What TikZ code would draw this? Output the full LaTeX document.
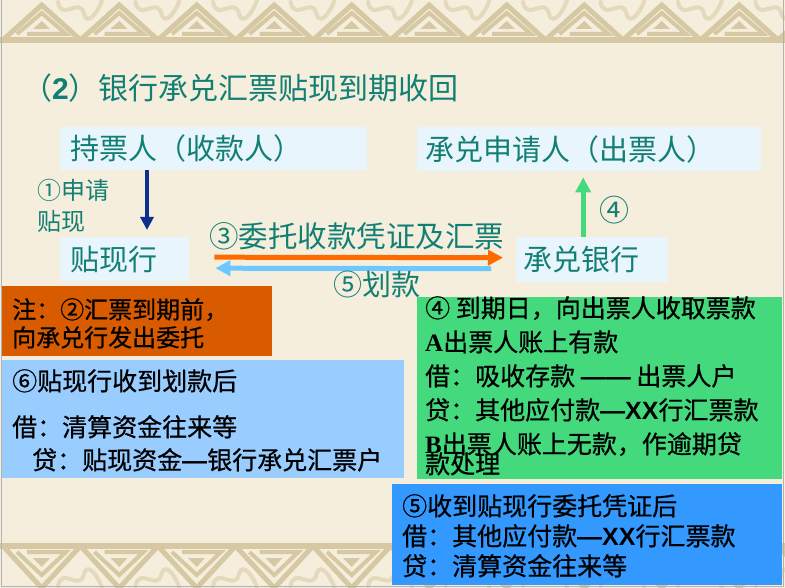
\documentclass[tikz,border=0pt]{standalone}
\usepackage{fontspec}
\setmainfont{Noto Sans CJK SC}
\newfontfamily\panelfont{Noto Sans CJK SC}[FakeBold=0.7]
\newfontfamily\romanfont{Liberation Serif}
\newfontfamily\arialfont{Liberation Sans}
\newcommand{\bardash}{{\arialfont\bfseries —}}
\usetikzlibrary{arrows.meta}
\definecolor{paper}{HTML}{F5EEDC}
\definecolor{trim}{HTML}{D6C8A2}
\definecolor{trimlight}{HTML}{E4D9BC}
\definecolor{inkteal}{HTML}{127F74}
\definecolor{cardblue}{HTML}{E8F5FC}
\definecolor{navyarrow}{HTML}{0D2F8F}
\definecolor{orangearrow}{HTML}{FF6A00}
\definecolor{skyarrow}{HTML}{6CC8FF}
\definecolor{greenarrow}{HTML}{44D97A}
\definecolor{noteorange}{HTML}{D95B00}
\definecolor{lightpanel}{HTML}{99CCFF}
\definecolor{greenpanel}{HTML}{44D97C}
\definecolor{bluepanel}{HTML}{3399FF}
\begin{document}
\begin{tikzpicture}[x=1pt, y=-1pt,
  card/.style={fill=cardblue, anchor=north west, align=left, inner ysep=0pt, text=inkteal, font=\fontsize{29}{29}\selectfont},
  panel/.style={anchor=north west, inner sep=0pt},
  paneltext/.style={anchor=north west, inner sep=0pt, align=left},
  tag/.style={text=inkteal, inner sep=0pt, anchor=west, align=left},
  flow/.style={line width=5pt, -{Triangle[length=15pt, width=15pt]}},
  trimline/.style={draw=trim, line width=5pt, line join=miter},
  knot/.style={draw=trimlight, line width=4pt, line cap=round}]
  \useasboundingbox (0,0) rectangle (785,588);
  \fill[paper] (0,0) rectangle (785,588);

  \begin{scope}
    \clip (0,0) rectangle (785,588);
    \foreach \i in {0,...,10} {
      \begin{scope}[xshift=\i*77.5pt]
        \draw[knot] (58,2) .. controls (62,22) and (80,-4) .. (84,14) .. controls (88,28) and (100,8) .. (102,0);
        \draw[trimline] (3,40) -- (41.75,5) -- (80.5,40);
        \draw[trimline, line width=4pt] (17,34) -- (41.75,13) -- (66,34) -- (27,34);
        \fill[trim] (33,29) -- (41.75,21) -- (50,29) -- cycle;
        \draw[knot] (58,586) .. controls (62,566) and (80,592) .. (84,574) .. controls (88,560) and (100,580) .. (102,588);
        \draw[trimline] (3,546) -- (41.75,588) -- (80.5,546);
        \draw[trimline, line width=4pt] (17,552) -- (41.75,575) -- (66,552) -- (27,552);
        \fill[trim] (33,558) -- (41.75,567) -- (50,558) -- cycle;
      \end{scope}
    }
    \fill[trim] (0,37) rectangle (785,43);
    \fill[trim] (0,543) rectangle (785,549);
  \end{scope}
  \draw[gray!60, line width=1pt] (1,0) -- (1,586) -- (783,586) -- (783,0);

  \node[tag, font=\fontsize{30}{30}\selectfont] (title) at (22,88) {（{\arialfont\bfseries 2}）银行承兑汇票贴现到期收回};

  \node[card, inner xsep=10pt, text width=287pt, minimum height=43pt] (holder) at (60,127) {持票人（收款人）};
  \node[card, inner xsep=8pt, text width=328pt, minimum height=44pt] (applicant) at (417,127) {承兑申请人（出票人）};
  \node[card, inner xsep=10pt, text width=109pt, minimum height=44pt] (discbank) at (60,237) {贴现行};
  \node[card, inner xsep=7pt, text width=138pt, minimum height=45pt] (acceptbank) at (516,237) {承兑银行};

  \draw[navyarrow, line width=4pt, -{Triangle[length=13pt, width=13pt]}, shorten >=7pt] ([xshift=87pt]holder.south west) -- ([xshift=87pt]discbank.north west);
  \draw[flow, orangearrow, shorten >=13pt] ([xshift=25pt, yshift=2pt]discbank.east) -- ([yshift=2pt]acceptbank.west);
  \draw[flow, skyarrow] ([xshift=-25pt, yshift=-9pt]acceptbank.west) -- ([xshift=26pt, yshift=-9pt]discbank.east);
  \draw[flow, greenarrow, shorten >=6pt] ([xshift=-9pt]acceptbank.north) -- ([xshift=-6pt]applicant.south);

  \node[tag, font=\fontsize{24}{31}\selectfont] (applylbl) at (37,206) {①申请\\贴现};
  \node[tag, font=\fontsize{29.5}{29.5}\selectfont] (collectlbl) at (209,236) {③委托收款凭证及汇票};
  \node[tag, font=\fontsize{29}{29}\selectfont] (paylbl) at (333,284) {⑤划款};
  \node[tag, font=\fontsize{30}{30}\selectfont] (notifylbl) at (599,210) {④};

  \node[panel, fill=noteorange, minimum width=270pt, minimum height=70pt] (notebox) at (2,286) {};
  \node[paneltext, font=\panelfont\fontsize{24}{28}\selectfont] (notetext) at (12,298) {注：②汇票到期前，\\向承兑行发出委托};

  \node[panel, fill=lightpanel, minimum width=402pt, minimum height=118pt] (settlebox) at (2,360) {};
  \node[paneltext, font=\panelfont\fontsize{25}{33}\selectfont] (settletext) at (12,369) {⑥贴现行收到划款后\\[13pt]借：清算资金往来等\\\hspace*{20pt}贷：贴现资金\bardash 银行承兑汇票户};

  \node[panel, fill=greenpanel, minimum width=365pt, minimum height=182pt] (duebox) at (417,297) {};
  \node[paneltext, font=\panelfont\fontsize{25}{34}\selectfont] (duetext) at (425,296) {④ 到期日，向出票人收取票款\\{\romanfont\bfseries A}出票人账上有款\\借：吸收存款 \bardash\bardash\ 出票人户\\贷：其他应付款\bardash{\arialfont\bfseries XX}行汇票款\\{\romanfont\bfseries B}出票人账上无款，作逾期贷\\[-14pt]款处理};

  \node[panel, fill=bluepanel, minimum width=390pt, minimum height=101pt] (receivebox) at (392,484) {};
  \node[paneltext, font=\panelfont\fontsize{25}{30}\selectfont] (receivetext) at (402,494) {⑤收到贴现行委托凭证后\\借：其他应付款\bardash{\arialfont\bfseries XX}行汇票款\\贷：清算资金往来等};
\end{tikzpicture}
\end{document}
